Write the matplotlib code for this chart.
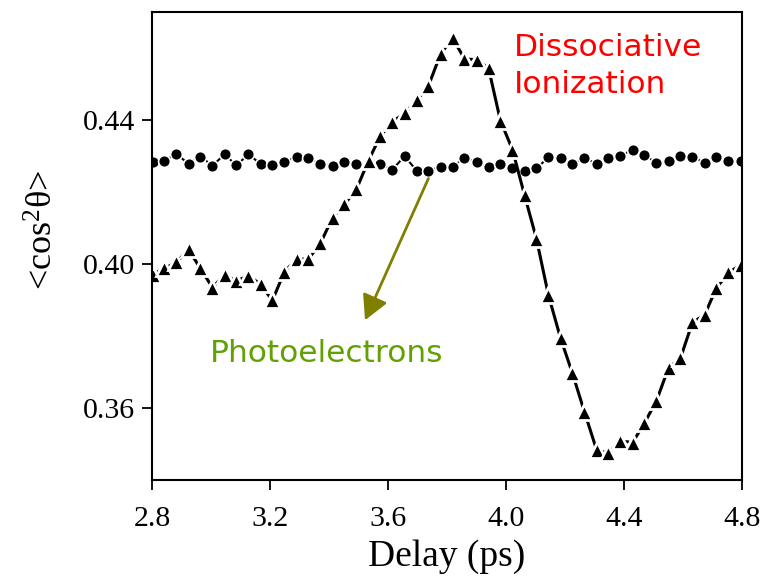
import matplotlib
matplotlib.use('Agg')
import matplotlib.pyplot as plt

plt.rcParams['font.family'] = ['Liberation Serif', 'DejaVu Serif']
plt.rcParams['mathtext.fontset'] = 'custom'
plt.rcParams['mathtext.rm'] = 'Liberation Serif'
plt.rcParams['mathtext.default'] = 'regular'

# delay values (ps), shared by both series
delay = [2.802, 2.842, 2.883, 2.924, 2.964, 3.005, 3.046, 3.086, 3.127, 3.168,
         3.208, 3.249, 3.290, 3.330, 3.371, 3.412, 3.452, 3.493, 3.534, 3.574,
         3.615, 3.656, 3.697, 3.737, 3.778, 3.819, 3.859, 3.900, 3.941, 3.981,
         4.022, 4.063, 4.103, 4.144, 4.185, 4.225, 4.266, 4.307, 4.347, 4.388,
         4.429, 4.469, 4.510, 4.551, 4.591, 4.632, 4.673, 4.713, 4.754, 4.795]

# dissociative ionization (triangles)
ion = [0.3971, 0.3988, 0.4005, 0.4041, 0.3988, 0.3935, 0.3970, 0.3953, 0.3968, 0.3944,
       0.3899, 0.3979, 0.4014, 0.4014, 0.4058, 0.4129, 0.4166, 0.4208, 0.4288, 0.4356,
       0.4396, 0.4419, 0.4455, 0.4495, 0.4584, 0.4628, 0.4571, 0.4568, 0.4544, 0.4399,
       0.4318, 0.4191, 0.4071, 0.3913, 0.3794, 0.3697, 0.3589, 0.3484, 0.3474, 0.3509,
       0.3504, 0.3558, 0.3620, 0.3712, 0.3738, 0.3838, 0.3859, 0.3933, 0.3977, 0.3997]

# photoelectrons (circles)
photo = [0.4284, 0.4288, 0.4306, 0.4279, 0.4299, 0.4274, 0.4305, 0.4275, 0.4305, 0.4279,
         0.4275, 0.4283, 0.4299, 0.4296, 0.4279, 0.4273, 0.4285, 0.4279, 0.4283, 0.4277,
         0.4263, 0.4300, 0.4260, 0.4259, 0.4271, 0.4271, 0.4295, 0.4284, 0.4271, 0.4278,
         0.4266, 0.4258, 0.4266, 0.4297, 0.4294, 0.4279, 0.4295, 0.4279, 0.4295, 0.4301,
         0.4318, 0.4303, 0.4281, 0.4286, 0.4301, 0.4299, 0.4281, 0.4299, 0.4287, 0.4286]

xticks = [2.8, 3.2, 3.6, 4.0, 4.4, 4.8]
yticks = [0.36, 0.40, 0.44]

fig = plt.figure(figsize=(7.63, 5.80), dpi=100)
ax = fig.add_axes([0.1992, 0.1724, 0.7733, 0.8064])

# white marker edges leave gaps in the connecting line, as in the original
ax.plot(delay, photo, color='black', lw=1.5, marker='o', ms=8.5,
        mfc='black', mec='white', mew=1.2)
ax.plot(delay, ion, color='black', lw=2.2, marker='^', ms=11,
        mfc='black', mec='white', mew=2.0)

ax.set_xlim(2.8, 4.8)
ax.set_ylim(0.34, 0.47)
ax.set_xticks(xticks)
ax.set_xticklabels(['%.1f' % t for t in xticks])
ax.set_yticks(yticks)
ax.set_yticklabels(['%.2f' % t for t in yticks])

for s in ax.spines.values():
    s.set_linewidth(1.5)
ax.tick_params(direction='out', length=7, width=1.3, labelsize=21.5,
               top=False, right=False)
ax.tick_params(axis='x', pad=12)
ax.tick_params(axis='y', pad=5)

ax.set_xlabel('Delay (ps)', fontsize=27, labelpad=5)
ax.set_ylabel('<cos$^{2}$θ>', fontsize=26)
ax.yaxis.set_label_coords(-0.155, 0.535)

ax.text(4.027, 0.4642, 'Dissociative\nIonization', color='#ff0000',
        fontsize=22.5, family=['DejaVu Sans'], ha='left', va='top',
        linespacing=1.32)
ax.text(2.997, 0.3729, 'Photoelectrons', color='#62a005',
        fontsize=22.5, family=['DejaVu Sans'], ha='left', va='baseline')
ax.annotate('', xy=(3.522, 0.3844), xytext=(3.737, 0.4238),
            arrowprops=dict(arrowstyle='-|>,head_length=1.5,head_width=0.8',
                            color='#808000', lw=2, shrinkA=0, shrinkB=0))

fig.savefig('out.png', dpi=100)
